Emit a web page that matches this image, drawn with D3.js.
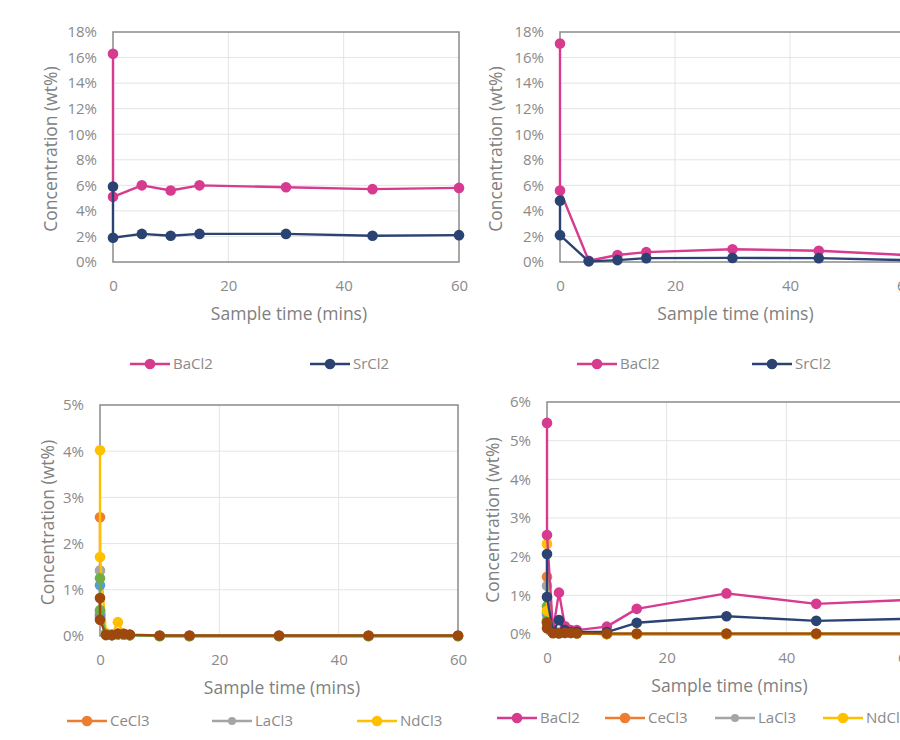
<!DOCTYPE html>
<html>
<head>
<meta charset="utf-8">
<script src="https://cdn.jsdelivr.net/npm/d3@7"></script>
<style>
  body { margin: 0; background: #fff; }
  svg { display: block; font-family: "Open Sans", "Noto Sans", sans-serif; }
</style>
</head>
<body>
<svg id="chart" width="900" height="740"></svg>
<script>
// ---- Sampling times (minutes); two samples are taken at t = 0 ----
const timesAB = [0, 0, 5, 10, 15, 30, 45, 60];
const timesCD = [0, 0, 1, 2, 3, 4, 5, 10, 15, 30, 45, 60];

// ---- Tick values ----
const xTickValues = [0, 20, 40, 60];
const yTicksAB = [0, 2, 4, 6, 8, 10, 12, 14, 16, 18];
const yTicksC = [0, 1, 2, 3, 4, 5];
const yTicksD = [0, 1, 2, 3, 4, 5, 6];

// ---- Run A: alkaline-earth chlorides (wt%) ----
const runA_BaCl2 = [16.3, 5.1, 6.0, 5.6, 6.0, 5.85, 5.7, 5.8];
const runA_SrCl2 = [5.9, 1.9, 2.2, 2.05, 2.2, 2.2, 2.05, 2.1];

// ---- Run B: alkaline-earth chlorides (wt%) ----
const runB_BaCl2 = [17.1, 5.6, 0.1, 0.55, 0.77, 1.0, 0.88, 0.55];
const runB_SrCl2 = [4.8, 2.1, 0.05, 0.15, 0.3, 0.32, 0.3, 0.15];

// ---- Run C: rare-earth chlorides (wt%) ----
const runC_CeCl3 = [2.57, 0.4, 0.05, 0.03, 0.06, 0.04, 0.02, 0, 0, 0, 0, 0];
const runC_LaCl3 = [1.42, 0.5, 0.05, 0.02, 0.04, 0.03, 0.02, 0, 0, 0, 0, 0];
const runC_NdCl3 = [4.02, 1.71, 0.06, 0.03, 0.3, 0.05, 0.02, 0, 0, 0, 0, 0];
const runC_PrCl3 = [1.1, 0.45, 0.04, 0.02, 0.04, 0.03, 0.02, 0, 0, 0, 0, 0];
const runC_SmCl3 = [1.25, 0.56, 0.04, 0.02, 0.03, 0.03, 0.02, 0, 0, 0, 0, 0];
const runC_GdCl3 = [0.82, 0.35, 0.02, 0.02, 0.05, 0.05, 0.03, 0.01, 0.01, 0.01, 0.01, 0.01];

// ---- Run D: mixed chlorides (wt%) ----
const runD_BaCl2 = [5.46, 2.56, 0.1, 1.07, 0.2, 0.1, 0.1, 0.19, 0.65, 1.05, 0.78, 0.88];
const runD_CeCl3 = [1.48, 0.3, 0.05, 0.03, 0.05, 0.05, 0.03, 0, 0, 0, 0, 0];
const runD_LaCl3 = [1.25, 0.5, 0.04, 0.03, 0.04, 0.03, 0.02, 0, 0, 0, 0, 0];
const runD_NdCl3 = [2.33, 0.6, 0.05, 0.03, 0.05, 0.04, 0.02, 0, 0, 0, 0, 0];
const runD_PrCl3 = [0.55, 0.3, 0.04, 0.02, 0.03, 0.03, 0.02, 0, 0, 0, 0, 0];
const runD_SmCl3 = [0.72, 0.35, 0.04, 0.02, 0.03, 0.03, 0.02, 0, 0, 0, 0, 0];
const runD_SrCl2 = [2.07, 0.96, 0.05, 0.36, 0.1, 0.05, 0.05, 0.05, 0.29, 0.46, 0.34, 0.39];
const runD_GdCl3 = [0.3, 0.15, 0.02, 0.02, 0.03, 0.03, 0.02, 0.01, 0.01, 0.01, 0.01, 0.01];

// ---- Series colours ----
const colors = {
  BaCl2: "#d63b90", SrCl2: "#2a4373", CeCl3: "#ed7d31", LaCl3: "#a5a5a5",
  NdCl3: "#ffc000", PrCl3: "#5b9bd5", SmCl3: "#70ad47", GdCl3: "#9e480e"
};

// ---- Panel definitions (layout + which series they show) ----
const panels = [
  {
    box: { left: 113, right: 459, top: 32, bottom: 262 }, yMax: 18, yTicks: yTicksAB,
    times: timesAB,
    series: [["BaCl2", runA_BaCl2], ["SrCl2", runA_SrCl2]],
    legend: { y: 364, items: [["BaCl2", 130], ["SrCl2", 310]] },
    yTitleX: 51
  },
  {
    box: { left: 560, right: 905, top: 32, bottom: 262 }, yMax: 18, yTicks: yTicksAB,
    times: timesAB,
    series: [["BaCl2", runB_BaCl2], ["SrCl2", runB_SrCl2]],
    legend: { y: 364, items: [["BaCl2", 577], ["SrCl2", 752]] },
    yTitleX: 496
  },
  {
    box: { left: 100, right: 458, top: 405, bottom: 636 }, yMax: 5, yTicks: yTicksC,
    times: timesCD,
    series: [["CeCl3", runC_CeCl3], ["LaCl3", runC_LaCl3], ["NdCl3", runC_NdCl3],
             ["PrCl3", runC_PrCl3], ["SmCl3", runC_SmCl3], ["GdCl3", runC_GdCl3]],
    legend: { y: 721, items: [["CeCl3", 67], ["LaCl3", 212], ["NdCl3", 357]] },
    yTitleX: 48
  },
  {
    box: { left: 547, right: 906, top: 402, bottom: 634 }, yMax: 6, yTicks: yTicksD,
    times: timesCD,
    series: [["CeCl3", runD_CeCl3], ["LaCl3", runD_LaCl3], ["PrCl3", runD_PrCl3],
             ["SmCl3", runD_SmCl3], ["NdCl3", runD_NdCl3], ["BaCl2", runD_BaCl2],
             ["SrCl2", runD_SrCl2], ["GdCl3", runD_GdCl3]],
    legend: { y: 718, items: [["BaCl2", 497], ["CeCl3", 605], ["LaCl3", 715], ["NdCl3", 823]] },
    yTitleX: 493
  }
];

const svg = d3.select("#chart");
const textColor = "#8a8a8a";

panels.forEach(p => {
  const b = p.box;
  const g = svg.append("g");
  const x = d3.scaleLinear().domain([0, 60]).range([b.left, b.right]);
  const y = d3.scaleLinear().domain([0, p.yMax]).range([b.bottom, b.top]);

  // gridlines
  g.append("g").selectAll("line.h").data(p.yTicks.slice(1, -1)).join("line")
    .attr("x1", b.left).attr("x2", b.right)
    .attr("y1", d => y(d)).attr("y2", d => y(d))
    .attr("stroke", "#e4e4e4").attr("stroke-width", 1);
  g.append("g").selectAll("line.v").data(xTickValues.slice(1, -1)).join("line")
    .attr("x1", d => x(d)).attr("x2", d => x(d))
    .attr("y1", b.top).attr("y2", b.bottom)
    .attr("stroke", "#e4e4e4").attr("stroke-width", 1);

  // plot frame
  g.append("rect")
    .attr("x", b.left).attr("y", b.top)
    .attr("width", b.right - b.left).attr("height", b.bottom - b.top)
    .attr("fill", "none").attr("stroke", "#8a8a8a").attr("stroke-width", 1.5);

  // axes
  const yAxis = g.append("g").attr("transform", `translate(${b.left},0)`)
    .call(d3.axisLeft(y).tickValues(p.yTicks).tickFormat(d => d + "%").tickSize(0).tickPadding(16));
  const xAxis = g.append("g").attr("transform", `translate(0,${b.bottom})`)
    .call(d3.axisBottom(x).tickValues(xTickValues).tickFormat(d3.format("d")).tickSize(0).tickPadding(18));
  [yAxis, xAxis].forEach(a => {
    a.select(".domain").remove();
    a.selectAll("text").attr("fill", textColor).style("font-size", "15px")
      .style("font-family", "\"Open Sans\", sans-serif");
  });

  // axis titles
  g.append("text")
    .attr("x", (b.left + b.right) / 2 + 3).attr("y", b.bottom + 58)
    .attr("text-anchor", "middle").attr("fill", "#808080").style("font-size", "17.5px")
    .text("Sample time (mins)");
  g.append("text")
    .attr("transform", `translate(${p.yTitleX},${(b.top + b.bottom) / 2 + 2}) rotate(-90)`)
    .attr("text-anchor", "middle").attr("dy", "0.35em")
    .attr("fill", "#808080").style("font-size", "17.5px")
    .text("Concentration (wt%)");

  // series
  const line = d3.line().x(d => x(d[0])).y(d => y(d[1]));
  p.series.forEach(([name, vals]) => {
    const pts = vals.map((v, i) => [p.times[i], v]);
    const s = g.append("g");
    s.append("path").datum(pts).attr("d", line)
      .attr("fill", "none").attr("stroke", colors[name]).attr("stroke-width", 2.4)
      .attr("stroke-linejoin", "round");
    s.selectAll("circle").data(pts).join("circle")
      .attr("cx", d => x(d[0])).attr("cy", d => y(d[1])).attr("r", 5.3)
      .attr("fill", colors[name]);
  });

  // legend
  const lg = g.append("g");
  p.legend.items.forEach(([name, lx]) => {
    const it = lg.append("g").attr("transform", `translate(${lx},${p.legend.y})`);
    it.append("line").attr("x1", 0).attr("x2", 40).attr("y1", 0).attr("y2", 0)
      .attr("stroke", colors[name]).attr("stroke-width", 2.4);
    it.append("circle").attr("cx", 20).attr("cy", 0).attr("r", name === "LaCl3" ? 4 : 5.3)
      .attr("fill", colors[name]);
    it.append("text").attr("x", 43).attr("y", 0).attr("dy", "0.35em")
      .attr("fill", textColor).style("font-size", "15px").text(name);
  });
});
</script>
</body>
</html>
